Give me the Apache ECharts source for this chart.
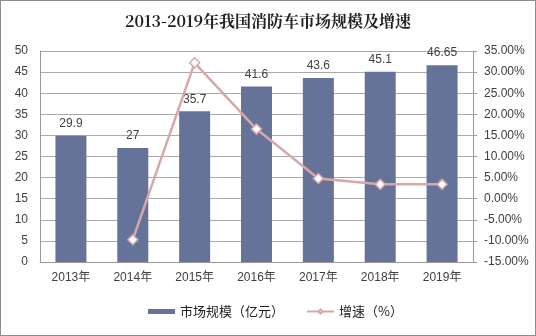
<!DOCTYPE html>
<html><head><meta charset="utf-8">
<script src="https://cdn.jsdelivr.net/npm/echarts@6/dist/echarts.min.js"></script>
<style>html,body{margin:0;padding:0;background:#fff}#c{width:536px;height:336px;box-sizing:border-box;border:1px solid #8c8c8c}</style>
</head><body><div id="c"></div>
<script>
var categories = ['2013年','2014年','2015年','2016年','2017年','2018年','2019年'];
var marketSize = [29.9, 27, 35.7, 41.6, 43.6, 45.1, 46.65];
var growth = [null, -9.7, 32.2, 16.5, 4.8, 3.4, 3.4];
var chart = echarts.init(document.getElementById('c'), null, {renderer:'canvas'});
var txt = '#404040';
chart.setOption({
  animation:false,
  title:{text:'2013-2019年我国消防车市场规模及增速',left:'center',top:7,
    textStyle:{fontFamily:'"Noto Serif CJK SC","Noto Sans CJK SC",serif',fontSize:16,fontWeight:'bold',color:'#222'}},
  grid:{left:39,right:62,top:50,bottom:73},
  legend:{bottom:12,left:142,itemGap:22,textStyle:{fontSize:13,color:'#222',fontFamily:'"Noto Sans CJK SC",sans-serif'},
    data:[{name:'市场规模（亿元）',icon:'rect',itemStyle:{}},{name:'增速（%）'}],itemWidth:27,itemHeight:5},
  xAxis:{type:'category',data:categories,
    axisLine:{lineStyle:{color:'#999'}},axisTick:{lineStyle:{color:'#999'},length:5},
    axisLabel:{color:txt,fontSize:12,margin:10,fontFamily:'Arial,"Liberation Sans","Noto Sans CJK SC",sans-serif'}},
  yAxis:[{type:'value',min:0,max:50,interval:5,
    axisLine:{show:true,lineStyle:{color:'#999'}},axisTick:{show:false},
    splitLine:{lineStyle:{color:'#aaa'}},
    axisLabel:{color:txt,fontSize:12,margin:12,fontFamily:'Arial,"Liberation Sans",sans-serif'}},
   {type:'value',min:-15,max:35,interval:5,
    axisLine:{show:true,lineStyle:{color:'#999'}},axisTick:{show:true,length:4,lineStyle:{color:'#999'}},
    splitLine:{show:false},
    axisLabel:{color:txt,fontSize:12,margin:11,fontFamily:'Arial,"Liberation Sans",sans-serif',
      formatter:function(v){return v.toFixed(2)+'%';}}}],
  series:[{name:'市场规模（亿元）',type:'bar',data:marketSize,barWidth:31,
    itemStyle:{color:'#667399'},
    label:{show:true,position:'top',color:txt,fontSize:12,distance:6,fontFamily:'Arial,"Liberation Sans",sans-serif'}},
   {name:'增速（%）',type:'line',yAxisIndex:1,data:growth,
    lineStyle:{color:'#d6a8a8',width:2.5},itemStyle:{color:'#fff',borderColor:'#d6a8a8',borderWidth:1.5},
    symbol:'diamond',symbolSize:10,showSymbol:true}]
});
</script></body></html>
